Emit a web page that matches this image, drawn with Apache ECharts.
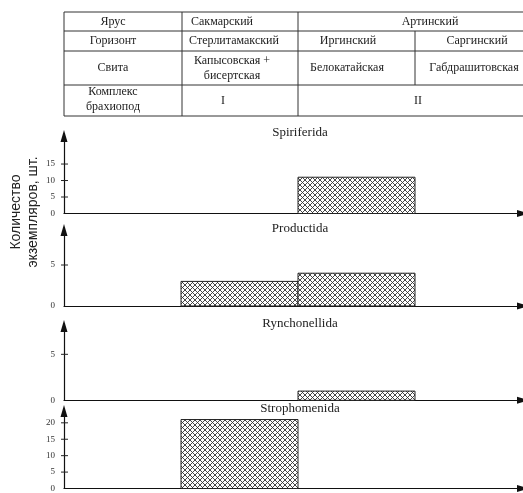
<!DOCTYPE html>
<html><head><meta charset="utf-8">
<script src="https://cdn.jsdelivr.net/npm/echarts@6/dist/echarts.min.js"></script>
<style>html,body{margin:0;padding:0;background:#fff}#c{width:523px;height:493px}</style>
</head><body><div id="c"></div>
<script>
// ---- Data ----
const binLabels = ['', 'Стерлитамакский', 'Иргинский', 'Саргинский'];
const panelTitles = ['Spiriferida', 'Productida', 'Rynchonellida', 'Strophomenida'];
const spiriferida = [0, 0, 11, 0];
const productida = [0, 3, 4, 0];
const rynchonellida = [0, 0, 1, 0];
const strophomenida = [0, 21, 0, 0];
const yTicks1 = [0, 5, 10, 15];
const yTicks2 = [0, 5];
const yTicks3 = [0, 5];
const yTicks4 = [0, 5, 10, 15, 20];
const yAxisTitle = 'Количество\nэкземпляров, шт.';
// table texts
const rowHeads = ['Ярус', 'Горизонт', 'Свита', 'Комплекс\nбрахиопод'];
const stages = ['Сакмарский', 'Артинский'];
const horizons = ['Стерлитамакский', 'Иргинский', 'Саргинский'];
const suites = ['Капысовская +\nбисертская', 'Белокатайская', 'Габдрашитовская'];
const complexes = ['I', 'II'];

const series = [spiriferida, productida, rynchonellida, strophomenida];
const ticks = [yTicks1, yTicks2, yTicks3, yTicks4];
const yMax = [23.5, 9.27, 8.08, 23.6];
const gridTop = [136, 230, 326, 411];
const gridH = [77.5, 76, 74.3, 78.5];
const titleTop = [126.5, 222.5, 317.5, 402.5];

function makeHatch() {
  const p = 5;
  const c = document.createElement('canvas');
  c.width = p; c.height = p;
  const ctx = c.getContext('2d');
  ctx.fillStyle = '#fff'; ctx.fillRect(0, 0, p, p);
  ctx.strokeStyle = '#333'; ctx.lineWidth = 0.9;
  ctx.beginPath();
  for (let k = -1; k <= 1; k++) {
    ctx.moveTo(-1 + k * p, -1); ctx.lineTo(p + 1 + k * p, p + 1);
    ctx.moveTo(p + 1 + k * p, -1); ctx.lineTo(-1 + k * p, p + 1);
  }
  ctx.stroke();
  return c;
}
const hatch = { image: makeHatch(), repeat: 'repeat' };

const chart = echarts.init(document.getElementById('c'), null, { renderer: 'canvas' });

const grids = [], xAxes = [], yAxes = [], sers = [], titles = [];
for (let g = 0; g < 4; g++) {
  const tv = ticks[g];
  const topTick = tv[tv.length - 1];
  grids.push({ left: 64, width: 459, top: gridTop[g], height: gridH[g], containLabel: false });
  xAxes.push({
    type: 'value', gridIndex: g, min: 0, max: 3.923,
    axisLine: { show: true, onZero: false, symbol: ['none', 'triangle'], symbolSize: [7, 12], lineStyle: { color: '#111', width: 1.2 } },
    axisTick: { show: false }, axisLabel: { show: false }, splitLine: { show: false }
  });
  yAxes.push({
    type: 'value', gridIndex: g, min: 0, max: yMax[g], interval: 5,
    axisLine: { show: true, symbol: ['none', 'triangle'], symbolSize: [7, 12], lineStyle: { color: '#111', width: 1.2 } },
    axisTick: { show: false },
    axisLabel: { show: true, margin: 9, fontFamily: 'Liberation Serif', fontSize: 9, color: '#333', showMaxLabel: false,
      formatter: v => (v <= topTick ? String(v) : '') },
    splitLine: { show: false }
  });
  const data = [];
  series[g].forEach((v, i) => { if (v > 0) data.push([i, i + 1, v, binLabels[i]]); });
  sers.push({
    type: 'custom', xAxisIndex: g, yAxisIndex: g, data: data,
    renderItem: function (params, api) {
      const s = api.coord([api.value(0), 0]);
      const e = api.coord([api.value(1), api.value(2)]);
      return { type: 'rect', shape: { x: s[0], y: e[1], width: e[0] - s[0], height: s[1] - e[1] },
        style: { fill: hatch, stroke: '#222', lineWidth: 1 } };
    }
  });
  // axis tick marks crossing the y axis
  sers.push({
    type: 'custom', xAxisIndex: g, yAxisIndex: g, data: tv.filter(v => v > 0).map(v => [0, v]), silent: true,
    renderItem: function (params, api) {
      const p = api.coord([api.value(0), api.value(1)]);
      return { type: 'line', shape: { x1: p[0] - 3, y1: p[1], x2: p[0] + 4, y2: p[1] },
        style: { stroke: '#222', lineWidth: 1 } };
    }
  });
  titles.push({ text: panelTitles[g], left: 300, top: titleTop[g], textAlign: 'center', padding: 0,
    textStyle: { fontFamily: 'Liberation Serif', fontSize: 13, fontWeight: 'normal', color: '#222' } });
}

// table graphics
const ft = { fontFamily: 'Liberation Serif', fontSize: 12, fill: '#222', align: 'center', verticalAlign: 'middle', lineHeight: 15 };
const lineStyle = { stroke: '#333', lineWidth: 1 };
const rowsY = [12, 31, 51, 85, 116];
const gfx = [];
rowsY.forEach(y => gfx.push({ type: 'line', shape: { x1: 64, y1: y, x2: 530, y2: y }, style: lineStyle }));
[64, 182, 298].forEach(x => gfx.push({ type: 'line', shape: { x1: x, y1: 12, x2: x, y2: 116 }, style: lineStyle }));
gfx.push({ type: 'line', shape: { x1: 415, y1: 31, x2: 415, y2: 85 }, style: lineStyle });
function txt(s, x, y) { gfx.push({ type: 'text', x: x, y: y, style: Object.assign({ text: s }, ft) }); }
txt(rowHeads[0], 113, 21.5);
txt(rowHeads[1], 113, 41);
txt(rowHeads[2], 113, 68);
txt(rowHeads[3], 113, 99);
txt(stages[0], 222, 21.5);
txt(stages[1], 430, 21.5);
txt(horizons[0], 234, 41);
txt(horizons[1], 348, 41);
txt(horizons[2], 477, 41);
txt(suites[0], 232, 68);
txt(suites[1], 347, 68);
txt(suites[2], 474, 68);
txt(complexes[0], 223, 101);
txt(complexes[1], 418, 101);
gfx.push({ type: 'text', x: 24.5, y: 212, rotation: Math.PI / 2,
  style: { text: yAxisTitle, fontFamily: 'Liberation Sans', fontSize: 14, lineHeight: 17, fill: '#222', align: 'center', verticalAlign: 'middle' } });

chart.setOption({
  animation: false,
  title: titles,
  grid: grids, xAxis: xAxes, yAxis: yAxes, series: sers,
  graphic: gfx
});
</script></body></html>
